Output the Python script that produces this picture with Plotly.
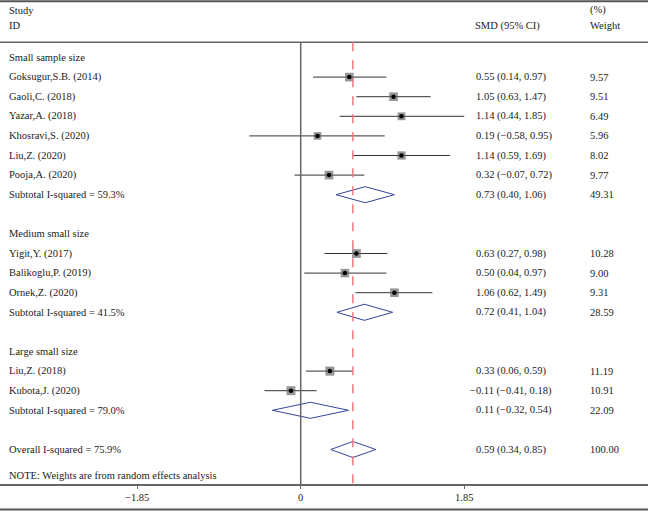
import plotly.graph_objects as go

# study level data
studies = ["Goksugur,S.B. (2014)", "Gaoli,C. (2018)", "Yazar,A. (2018)",
           "Khosravi,S. (2020)", "Liu,Z. (2020)", "Pooja,A. (2020)",
           "Yigit,Y. (2017)", "Balikoglu,P. (2019)", "Ornek,Z. (2020)",
           "Liu,Z. (2018)", "Kubota,J. (2020)"]
smd = [0.55, 1.05, 1.14, 0.19, 1.14, 0.32, 0.63, 0.50, 1.06, 0.33, -0.11]
ci_lo = [0.14, 0.63, 0.44, -0.58, 0.59, -0.07, 0.27, 0.04, 0.62, 0.06, -0.41]
ci_hi = [0.97, 1.47, 1.85, 0.95, 1.69, 0.72, 0.98, 0.97, 1.49, 0.59, 0.18]
weight = [9.57, 9.51, 6.49, 5.96, 8.02, 9.77, 10.28, 9.00, 9.31, 11.19, 10.91]

# subgroups
groups = ["Small sample size", "Medium small size", "Large small size"]
group_n = [6, 3, 2]
sub_i2 = ["59.3%", "41.5%", "79.0%"]
sub_smd = [0.73, 0.72, 0.11]
sub_lo = [0.40, 0.41, -0.32]
sub_hi = [1.06, 1.04, 0.54]
sub_w = [49.31, 28.59, 22.09]

# overall
all_i2 = "75.9%"
all_smd, all_lo, all_hi, all_w = 0.59, 0.34, 0.85, 100.00

tick_vals = [-1.85, 0, 1.85]
tick_text = ["\u22121.85", "0", "1.85"]

W, H = 648, 511
X0_PX, PX_UNIT = 300.7, 88.4      # pixel of SMD=0, pixels per SMD unit
ROW0_PX, ROW_PX = 57.5, 19.6      # pixel of first row, row height
FONT = "Liberation Serif"
TXT = "#222222"
FS = 10.5


def fmt(v):
    return f"{v:.2f}".replace("-", "\u2212")


def ci_text(e, l, h):
    return f"{fmt(e)} ({fmt(l)}, {fmt(h)})"


fig = go.Figure()
ann = []


def label(xpx, row, text, yref="y"):
    ann.append(dict(x=xpx / W, y=row, xref="paper", yref=yref, text=text,
                    showarrow=False, xanchor="left", yanchor="middle",
                    font=dict(family=FONT, size=FS, color=TXT)))


def value_cols(row, e, l, h, w):
    t = ci_text(e, l, h)
    label(474 - (6 if t.startswith("\u2212") else 0), row, t)
    label(588, row, f"{w:.2f}")


def diamond(row, e, l, h):
    fig.add_trace(go.Scatter(x=[l, e, h, e, l], y=[row, row - 0.41, row, row + 0.41, row],
                             mode="lines", line=dict(color="#34449a", width=1),
                             hoverinfo="skip", showlegend=False))


row = 0
k = 0
sx, sy, ssize = [], [], []
for g, n in enumerate(group_n):
    label(7, row, groups[g])
    for i in range(n):
        r = row + 1 + i
        label(7, r, studies[k])
        value_cols(r, smd[k], ci_lo[k], ci_hi[k], weight[k])
        fig.add_trace(go.Scatter(x=[ci_lo[k], ci_hi[k]], y=[r, r], mode="lines",
                                 line=dict(color="#333333", width=1),
                                 hoverinfo="skip", showlegend=False))
        sx.append(smd[k]); sy.append(r); ssize.append(4 + 1.5 * weight[k] ** 0.5)
        k += 1
    r = row + n + 1
    label(7, r, f"Subtotal I-squared = {sub_i2[g]}")
    value_cols(r, sub_smd[g], sub_lo[g], sub_hi[g], sub_w[g])
    diamond(r, sub_smd[g], sub_lo[g], sub_hi[g])
    row += n + 3

label(7, row, f"Overall I-squared = {all_i2}")
value_cols(row, all_smd, all_lo, all_hi, all_w)
diamond(row, all_smd, all_lo, all_hi)
label(7, row + 1.35, "NOTE: Weights are from random effects analysis")

# weight boxes and point estimates
fig.add_trace(go.Scatter(x=sx, y=sy, mode="markers",
                         marker=dict(symbol="square", size=ssize, color="#6a6a6a",
                                     line=dict(width=0)),
                         hoverinfo="skip", showlegend=False))
fig.add_trace(go.Scatter(x=sx, y=sy, mode="markers",
                         marker=dict(symbol="circle", size=4.5, color="#000000"),
                         hoverinfo="skip", showlegend=False))

# headers
label(7, 1 - 10 / H, "Study", yref="paper")
label(7, 1 - 25.5 / H, "ID", yref="paper")
label(473, 1 - 25.5 / H, "SMD (95% CI)", yref="paper")
label(588, 1 - 10 / H, "(%)", yref="paper")
label(588, 1 - 25.5 / H, "Weight", yref="paper")

top_line, head_line, axis_line, bot_line = 1.2, 42.3, 484, 509.5
shapes = [
    dict(type="line", xref="paper", yref="paper", x0=0, x1=1,
         y0=1 - top_line / H, y1=1 - top_line / H, line=dict(color="#555555", width=2)),
    dict(type="line", xref="paper", yref="paper", x0=0, x1=1,
         y0=1 - head_line / H, y1=1 - head_line / H, line=dict(color="#666666", width=1.5)),
    dict(type="line", xref="paper", yref="paper", x0=0, x1=1,
         y0=1 - bot_line / H, y1=1 - bot_line / H, line=dict(color="#555555", width=2)),
    dict(type="line", xref="x", yref="paper", x0=0, x1=0,
         y0=1 - head_line / H, y1=1 - axis_line / H, line=dict(color="#666666", width=1.5)),
    dict(type="line", xref="x", yref="paper", x0=all_smd, x1=all_smd,
         y0=1 - head_line / H, y1=1 - axis_line / H,
         line=dict(color="#ec7a7e", width=1.5, dash="dash")),
]

fig.update_layout(
    width=W, height=H, margin=dict(l=0, r=0, t=0, b=0),
    plot_bgcolor="white", paper_bgcolor="white",
    annotations=ann, shapes=shapes, showlegend=False, hovermode=False,
    xaxis=dict(range=[-X0_PX / PX_UNIT, (W - X0_PX) / PX_UNIT], showgrid=False,
               zeroline=False, anchor="free", position=1 - axis_line / H,
               showline=True, linecolor="#666666", linewidth=1.5,
               ticks="outside", ticklen=3, tickcolor="#666666",
               tickvals=tick_vals, ticktext=tick_text,
               tickfont=dict(family=FONT, size=FS, color=TXT)),
    yaxis=dict(range=[(H - ROW0_PX) / ROW_PX, -ROW0_PX / ROW_PX], visible=False,
               showline=False, showgrid=False, zeroline=False),
)

# drop the browser's default 8px body margin so the figure sits at the page corner
fig.write_html("out.html", config={"displayModeBar": False, "staticPlot": True},
               post_script="document.documentElement.style.margin='0';"
                           "document.body.style.margin='0';"
                           "document.body.style.overflow='hidden';")
